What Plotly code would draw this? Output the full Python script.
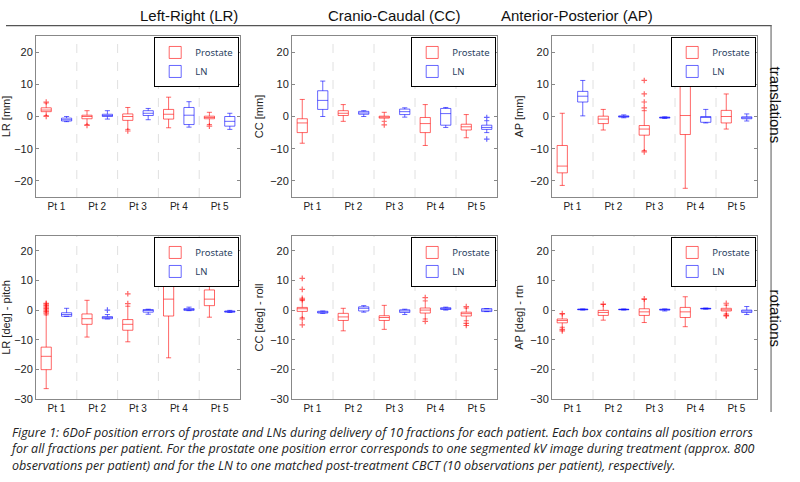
import plotly.graph_objects as go

patients = ["Pt 1", "Pt 2", "Pt 3", "Pt 4", "Pt 5"]
panel_titles = ["Left-Right (LR)", "Cranio-Caudal (CC)", "Anterior-Posterior (AP)"]
y_titles = ["LR [mm]", "CC [mm]", "AP [mm]", "LR [deg] - pitch", "CC [deg] - roll", "AP [deg] - rtn"]

# box stats per patient: [q1, median, q3, lower whisker, upper whisker]
lr_p = [[1.5, 2, 2.7, 0.3, 4.2], [-0.7, 0, 0.4, -2.5, 1.8], [-1.2, 0, 0.8, -4, 2.8], [-0.8, 0.7, 2.2, -3.5, 6], [-0.7, -0.3, 0.1, -2.5, 1.3]]
lr_l = [[-1.4, -1, -0.5, -1.6, 0], [0, 0.3, 0.7, -0.8, 1.8], [0.3, 1, 1.8, -1, 2.5], [-2.5, 0.4, 2.8, -3.3, 4.6], [-3, -1.5, 0, -4, 1]]
lr_p_out = [[0, 4.5], [-2.8], [-4.5], [], [-3]]
lr_l_out = [[], [], [], [], []]

cc_p = [[-5, -2, -0.7, -8.3, 5.3], [0.3, 1, 1.8, -1.5, 3.7], [-0.5, -0.2, 0.1, -1.5, 1.3], [-5, -2.2, -0.3, -9, 3.7], [-4.2, -3.2, -2.4, -6.6, 0.6]]
cc_l = [[2.2, 5, 8, 0, 11], [0.7, 1.1, 1.6, 0, 1.8], [0.6, 1.5, 2.3, -0.2, 2.7], [-2.7, 0.9, 2.5, -3.4, 2.8], [-4, -3.4, -2.7, -5, -1.3]]
cc_p_out = [[], [], [-2.6], [], []]
cc_l_out = [[], [], [], [], [-0.3, -7]]

ap_p = [[-17.5, -15.4, -9, -21.4, 1], [-2.2, -0.8, 0.1, -4.2, 2.2], [-5.8, -3.9, -2.8, -10.6, 1.8], [-5.6, 0.3, 12.9, -22.3, 22.4], [-2, 0, 1.9, -3.9, 7]]
ap_l = [[4.5, 6.3, 7.8, 0.2, 11.2], [-0.2, 0, 0.2, -0.4, 0.5], [-0.5, -0.3, -0.2, -0.6, -0.1], [-1.8, -0.3, 0, -2, 2.2], [-0.7, -0.4, -0.1, -1.4, 0.8]]
ap_p_out = [[], [], [2.7, 4.5, 7, 11.2, -11], [], []]
ap_l_out = [[], [], [], [], []]

pitch_p = [[-20.1, -15.6, -12.5, -26.5, -1.6], [-4.8, -2.9, -1.3, -9.1, 3.3], [-6.8, -4.8, -3.2, -10.7, 1.3], [-2, 3.7, 13.9, -16.1, 21.8], [1.5, 3.7, 6.8, -2.4, 12.8]]
pitch_l = [[-2.1, -1.5, -0.9, -2.1, 0.6], [-2.9, -2.5, -2.2, -3, -1.5], [-0.7, 0, 0.2, -1.4, 0.3], [-0.1, 0.2, 0.5, -0.2, 1], [-0.7, -0.5, -0.3, -0.8, -0.1]]
pitch_p_out = [[-1, -0.5, 0, 0.5, 1, 1.5, 2, 2.3], [], [2.2, 5.5], [], []]
pitch_l_out = [[], [0], [], [], []]

roll_p = [[-0.45, 0.45, 0.9, -2.6, 3.2], [-3.5, -2.3, -1.1, -7, 0.6], [-3.5, -2.5, -1.9, -6.5, 1.6], [-1, 0, 0.7, -3, 3.1], [-2, -1.2, -0.7, -3.6, 0.7]]
roll_l = [[-1, -0.7, -0.4, -1.1, -0.3], [-0.3, 0.6, 1.1, -0.7, 1.5], [-0.8, -0.3, 0.1, -1.5, 0.3], [0.2, 0.5, 0.8, 0, 1], [-0.5, 0, 0.5, -0.5, 0.5]]
roll_p_out = [[3.5, 4, 7, 10.7, -3, -5], [], [], [-3.8, 4.2], [1.2, -4.5, -5.2]]
roll_l_out = [[], [], [], [], []]

rtn_p = [[-4.3, -3.5, -3, -5.8, -1.3], [-1.8, -0.8, -0.1, -3.4, 1.9], [-1.8, -0.6, 0.45, -4.2, 3.6], [-2.5, -0.6, 0.9, -5.6, 4.5], [-0.3, 0.1, 0.6, -1.3, 1.7]]
rtn_l = [[0.1, 0.2, 0.35, 0, 0.4], [0.1, 0.2, 0.3, 0, 0.4], [0, 0.15, 0.3, -0.3, 0.4], [0.4, 0.5, 0.6, 0.3, 0.7], [-0.8, -0.3, 0, -1.5, 1.2]]
rtn_p_out = [[-1.2, -6.5, -7], [2], [3.8], [], [2.3, -1.8, -2]]
rtn_l_out = [[], [], [], [], []]

panels = [
    (lr_p, lr_l, lr_p_out, lr_l_out), (cc_p, cc_l, cc_p_out, cc_l_out), (ap_p, ap_l, ap_p_out, ap_l_out),
    (pitch_p, pitch_l, pitch_p_out, pitch_l_out), (roll_p, roll_l, roll_p_out, roll_l_out), (rtn_p, rtn_l, rtn_p_out, rtn_l_out),
]

W, H = 800, 482
xdom_px = [(36, 240), (292, 497), (552, 757)]
ydom_px = [(36, 197), (236, 399)]
RED = "rgba(255,0,0,0.6)"
BLUE = "rgba(0,0,255,0.6)"
FONT = "Liberation Sans, Arial, sans-serif"

fig = go.Figure()
layout = dict(width=W, height=H, margin=dict(l=0, r=0, t=0, b=0, autoexpand=False), paper_bgcolor="white",
              plot_bgcolor="white", showlegend=True, boxmode="overlay", shapes=[], annotations=[])

for k, (pv, lv, po, lo) in enumerate(panels):
    row, col = divmod(k, 3)
    n = k + 1
    xa = "x" if n == 1 else f"x{n}"
    ya = "y" if n == 1 else f"y{n}"
    leg = "legend" if n == 1 else f"legend{n}"
    for stats, outs, color, name, off in ((pv, po, RED, "Prostate", -0.25), (lv, lo, BLUE, "LN", 0.25)):
        for i, s in enumerate(stats):
            fig.add_trace(go.Box(
                x=[i + 1 + off], q1=[s[0]], median=[s[1]], q3=[s[2]], lowerfence=[s[3]], upperfence=[s[4]],
                name=name, legendgroup=f"{name}{n}", showlegend=(i == 0), legend=leg,
                line=dict(color=color, width=1), fillcolor="rgba(255,255,255,0)", width=0.25,
                whiskerwidth=0.5, boxpoints=False, xaxis=xa, yaxis=ya, hoverinfo="skip"))
            if outs[i]:
                fig.add_trace(go.Scatter(
                    x=[i + 1 + off] * len(outs[i]), y=outs[i], mode="markers", showlegend=False,
                    marker=dict(symbol="cross-thin", size=4, line=dict(color=color, width=1.2)),
                    xaxis=xa, yaxis=ya, hoverinfo="skip"))
    x0, x1 = xdom_px[col]
    y0, y1 = ydom_px[row]
    dom_x = [x0 / W, x1 / W]
    dom_y = [1 - y1 / H, 1 - y0 / H]
    yr = [-25, 25] if row == 0 else [-30, 25]
    layout[f"xaxis{'' if n == 1 else n}"] = dict(
        domain=dom_x, anchor=ya, range=[0.5, 5.5], tickvals=[1, 2, 3, 4, 5], ticktext=patients,
        showgrid=False, zeroline=False, showline=True, linecolor="#888", mirror=True, ticks="",
        tickfont=dict(family=FONT, size=10, color="#222"), automargin=False)
    layout[f"yaxis{'' if n == 1 else n}"] = dict(
        domain=dom_y, anchor=xa, range=yr, dtick=10, showgrid=False, zeroline=False, showline=True,
        linecolor="#888", mirror="ticks", ticks="inside", ticklen=3, tickcolor="#888", automargin=False,
        tickfont=dict(family=FONT, size=11, color="#222"),
        title=dict(text=y_titles[k], font=dict(family=FONT, size=11, color="#222"), standoff=4))
    layout[leg] = dict(x=dom_x[1] - 0.001, y=dom_y[1] - 0.002, xanchor="right", yanchor="top", bgcolor="white",
                       bordercolor="black", borderwidth=1, font=dict(family="Noto Sans", size=9.5),
                       tracegroupgap=0, itemwidth=30)
    for b in (1.5, 2.5, 3.5, 4.5):
        layout["shapes"].append(dict(type="line", xref=xa, yref=f"{ya} domain", x0=b, x1=b, y0=0, y1=1,
                                     line=dict(color="#e0e0e0", width=1, dash="dash"), layer="below"))

for c, t in enumerate(panel_titles):
    x0, x1 = xdom_px[c]
    layout["annotations"].append(dict(text=t, x=(x0 + x1) / 2 / W, y=1 - 15 / H, xref="paper", yref="paper",
                                      yanchor="middle", showarrow=False, font=dict(family=FONT, size=15, color="#111")))
layout["shapes"].append(dict(type="rect", xref="paper", yref="paper", x0=6 / W, x1=771.5 / W, y0=1 - 25 / H, y1=1 - 26.3 / H,
                             line=dict(width=0), fillcolor="#555", layer="above"))
layout["shapes"].append(dict(type="rect", xref="paper", yref="paper", x0=770.5 / W, x1=771.6 / W, y0=1 - 25 / H, y1=1 - 412 / H,
                             line=dict(width=0), fillcolor="#666", layer="above"))
for txt, yp in (("translations", 105), ("rotations", 318)):
    layout["annotations"].append(dict(text=txt, x=786 / W, y=1 - yp / H, xref="paper", yref="paper", showarrow=False,
                                      yanchor="middle", textangle=90, font=dict(family=FONT, size=15, color="#111")))
caption = ("Figure 1: 6DoF position errors of prostate and LNs during delivery of 10 fractions for each patient. Each box contains all position errors<br>"
           "for all fractions per patient. For the prostate one position error corresponds to one segmented kV image during treatment (approx. 800<br>"
           "observations per patient) and for the LN to one matched post-treatment CBCT (10 observations per patient), respectively.")
layout["annotations"].append(dict(text="<i>" + caption + "</i>", x=8 / W, y=1 - 422 / H, xref="paper", yref="paper",
                                  xanchor="left", yanchor="top", align="left", showarrow=False,
                                  font=dict(family="Liberation Sans Narrow, Open Sans, sans-serif", size=12.5, color="#222")))
fig.update_layout(**layout)
fig.write_html("out.html", config={"displayModeBar": False},
               post_script="document.body.style.margin='0';document.body.style.overflow='hidden';")
